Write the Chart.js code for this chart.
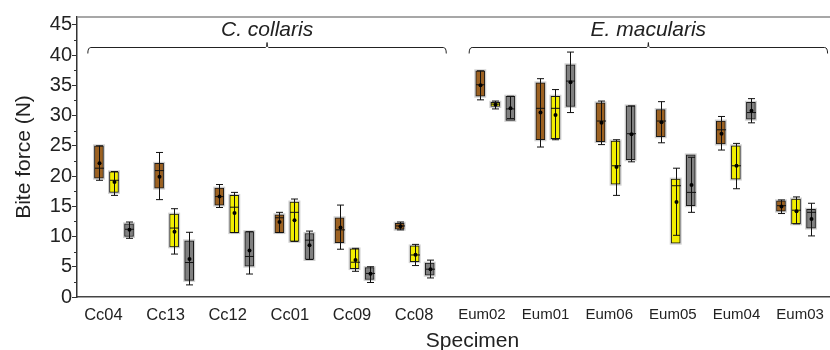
<!DOCTYPE html>
<html><head><meta charset="utf-8">
<script src="https://cdn.jsdelivr.net/npm/chart.js@4.4.1/dist/chart.umd.min.js"></script>
<style>html,body{margin:0;padding:0;overflow:hidden;background:#fff}#wrap{position:relative;width:868px;height:350px}</style>
</head><body><div id="wrap"><canvas id="c"></canvas></div>
<script>
// ---------- data ----------
const specimens = ['Cc04','Cc13','Cc12','Cc01','Cc09','Cc08','Eum02','Eum01','Eum06','Eum05','Eum04','Eum03'];
const speciesNames = ['C. collaris', 'E. macularis'];
const speciesFirst = [0, 6];
const speciesLast = [5, 11];
const yTicks = [0, 5, 10, 15, 20, 25, 30, 35, 40, 45];
const yMinorTicks = [2.5, 7.5, 12.5, 17.5, 22.5, 27.5, 32.5, 37.5, 42.5];
const seriesNames = ['Series 1', 'Series 2', 'Series 3'];

const brownMin  = [19.3, 16.1, 14.8, 10.65, 7.9, 11.1, 32.6, 24.8, 25.2, 25.5, 24.3, 13.8];
const brownQ1   = [19.65, 18.0, 15.2, 10.65, 9.0, 11.2, 33.2, 26.0, 25.7, 26.5, 25.3, 14.2];
const brownMed  = [21.3, 20.9, 16.6, 13.1, 11.1, 11.75, 35.1, 31.2, 29.1, 29.1, 27.65, 15.1];
const brownQ3   = [25.0, 22.1, 18.0, 13.6, 13.1, 12.2, 37.4, 35.4, 32.1, 31.0, 29.1, 15.9];
const brownMax  = [25.0, 23.9, 18.6, 14.0, 15.2, 12.4, 37.4, 36.1, 32.4, 32.3, 29.85, 16.05];
const brownMean = [22.1, 19.9, 16.6, 12.4, 11.5, 11.7, 35.0, 30.5, 28.8, 28.9, 27.0, 14.95];

const yellowMin  = [16.8, 7.1, 10.65, 9.2, 4.25, 5.2, 31.1, 26.0, 16.8, 10.2, 17.9, 12.1];
const yellowQ1   = [17.3, 8.3, 10.65, 9.2, 4.7, 5.85, 31.5, 26.2, 18.65, 8.9, 19.5, 12.1];
const yellowMed  = [19.3, 11.4, 14.85, 14.0, 5.75, 6.95, 31.9, 31.2, 21.7, 18.4, 21.7, 14.35];
const yellowQ3   = [20.7, 13.7, 16.8, 15.7, 7.95, 8.45, 32.2, 33.2, 25.8, 19.5, 25.0, 16.2];
const yellowMax  = [20.75, 14.6, 17.3, 16.2, 8.05, 8.7, 32.4, 34.3, 26.0, 21.3, 25.4, 16.55];
const yellowMean = [19.0, 10.8, 13.9, 12.7, 6.1, 7.0, 31.8, 30.1, 21.5, 15.7, 21.7, 14.2];

const grayMin  = [9.7, 2.0, 3.8, 6.2, 2.4, 3.15, 29.5, 30.5, 22.35, 14.0, 28.8, 10.1];
const grayQ1   = [10.0, 2.75, 5.1, 6.2, 2.9, 3.6, 29.2, 31.5, 22.7, 15.1, 29.4, 11.4];
const grayMed  = [11.2, 5.7, 6.7, 9.4, 3.9, 4.6, 31.1, 35.7, 27.0, 17.3, 30.5, 14.0];
const grayQ3   = [12.1, 9.3, 10.8, 10.5, 4.85, 5.6, 33.2, 38.4, 31.6, 23.5, 32.2, 14.5];
const grayMax  = [12.4, 10.7, 10.8, 10.9, 5.0, 6.1, 33.2, 40.5, 31.6, 23.1, 32.8, 15.5];
const grayMean = [11.1, 6.3, 7.7, 8.55, 3.85, 4.6, 31.2, 35.5, 26.9, 18.5, 30.8, 12.9];

// ---------- layout / style ----------
const SPECIES_GAP = 0.34;
const SERIES_OFFSET = [-0.25, 0, 0.25];
const COLORS = ['#9C6121', '#F2EE00', '#808080'];
const FONT = "'Liberation Sans', Arial, sans-serif";
const TXT = '#222';
const LABEL_LAYOUT = [{start: -0.175, step: 1.033}, {start: 6.118, step: 1.058}];

function groupPos(i) { return i + (i >= speciesFirst[1] ? SPECIES_GAP : 0); }
const labelPos = specimens.map((s, i) => {
  const g = i >= speciesFirst[1] ? 1 : 0;
  return LABEL_LAYOUT[g].start + (i - speciesFirst[g]) * LABEL_LAYOUT[g].step;
});

const stats = [
  {min: brownMin, q1: brownQ1, med: brownMed, q3: brownQ3, max: brownMax, mean: brownMean},
  {min: yellowMin, q1: yellowQ1, med: yellowMed, q3: yellowQ3, max: yellowMax, mean: yellowMean},
  {min: grayMin, q1: grayQ1, med: grayMed, q3: grayQ3, max: grayMax, mean: grayMean}
];

const datasets = stats.map((st, s) => ({
  label: seriesNames[s],
  data: specimens.map((_, i) => ({x: groupPos(i) + SERIES_OFFSET[s], y: [st.q1[i], st.q3[i]]})),
  backgroundColor: COLORS[s],
  borderColor: '#1a1a1a',
  borderWidth: 1,
  borderSkipped: false,
  barThickness: 9,
  grouped: false
}));

const boxPlugin = {
  id: 'boxparts',
  beforeDatasetsDraw(chart) {
    const ctx = chart.ctx;
    ctx.save();
    ctx.strokeStyle = 'rgba(0,0,0,0.18)';
    ctx.lineWidth = 3;
    chart.data.datasets.forEach((ds, s) => {
      chart.getDatasetMeta(s).data.forEach(el => {
        const top = Math.min(el.y, el.base), bot = Math.max(el.y, el.base);
        ctx.strokeRect(el.x - el.width / 2, top, el.width, bot - top);
      });
    });
    ctx.restore();
  },
  afterDatasetsDraw(chart) {
    const ctx = chart.ctx, y = chart.scales.y;
    ctx.save();
    ctx.strokeStyle = '#111';
    ctx.fillStyle = '#000';
    ctx.lineWidth = 1;
    stats.forEach((st, s) => {
      chart.getDatasetMeta(s).data.forEach((el, i) => {
        const x = Math.round(el.x) + 0.5;
        const w = el.width;
        const yl = y.getPixelForValue(st.min[i]), yh = y.getPixelForValue(st.max[i]);
        ctx.beginPath();
        ctx.moveTo(x, yl); ctx.lineTo(x, yh);
        ctx.moveTo(x - 3.5, yl); ctx.lineTo(x + 3.5, yl);
        ctx.moveTo(x - 3.5, yh); ctx.lineTo(x + 3.5, yh);
        const ym = y.getPixelForValue(st.med[i]);
        ctx.moveTo(x - w / 2, ym); ctx.lineTo(x + w / 2, ym);
        ctx.stroke();
        ctx.beginPath();
        ctx.arc(x, y.getPixelForValue(st.mean[i]), 2, 0, Math.PI * 2);
        ctx.fill();
      });
    });
    ctx.restore();
  },
  afterDraw(chart) {
    const ctx = chart.ctx, a = chart.chartArea, xs = chart.scales.x, ys = chart.scales.y;
    ctx.save();
    // top frame line
    ctx.strokeStyle = '#8a8a8a';
    ctx.lineWidth = 1.5;
    ctx.beginPath(); ctx.moveTo(a.left, a.top); ctx.lineTo(a.right, a.top); ctx.stroke();
    // minor y ticks
    ctx.strokeStyle = '#333';
    ctx.lineWidth = 1;
    ctx.beginPath();
    yMinorTicks.forEach(v => {
      const py = Math.round(ys.getPixelForValue(v)) + 0.5;
      ctx.moveTo(a.left - 3, py); ctx.lineTo(a.left, py);
    });
    ctx.stroke();
    // species braces
    ctx.strokeStyle = '#222';
    ctx.lineWidth = 1;
    speciesNames.forEach((name, g) => {
      const x0 = xs.getPixelForValue(groupPos(speciesFirst[g]) - 0.435);
      const x1 = xs.getPixelForValue(groupPos(speciesLast[g]) + 0.525);
      const xc = (x0 + x1) / 2;
      const by = a.top + 30.5;
      ctx.beginPath();
      ctx.moveTo(x0, by + 6);
      ctx.quadraticCurveTo(x0, by, x0 + 3, by);
      ctx.lineTo(xc - 1.5, by);
      ctx.quadraticCurveTo(xc, by, xc, by - 5);
      ctx.quadraticCurveTo(xc, by, xc + 1.5, by);
      ctx.lineTo(x1 - 3, by);
      ctx.quadraticCurveTo(x1, by, x1, by + 6);
      ctx.stroke();
      ctx.fillStyle = TXT;
      ctx.font = 'italic 21px ' + FONT;
      ctx.textAlign = 'center';
      ctx.textBaseline = 'alphabetic';
      ctx.fillText(name, xc, a.top + 19);
    });
    ctx.restore();
  }
};

new Chart(document.getElementById('c'), {
  type: 'bar',
  data: {datasets},
  options: {
    responsive: true,
    maintainAspectRatio: false,
    animation: false,
    layout: {padding: {top: 17, right: 0, bottom: 0, left: 0}},
    plugins: {legend: {display: false}, tooltip: {enabled: false}},
    scales: {
      x: {
        type: 'linear',
        offset: false,
        min: -0.615,
        max: 12.537,
        afterBuildTicks: sc => { sc.ticks = labelPos.map(v => ({value: v})); },
        afterFit: sc => { sc.height = 53; },
        grid: {display: false, drawTicks: false, offset: false},
        border: {display: true, color: '#444', width: 1.5},
        ticks: {
          autoSkip: false, maxRotation: 0, padding: 9, color: TXT,
          font: ctx => ({family: FONT, size: ctx.index < 6 ? 16.5 : 15}),
          callback: (v, i) => specimens[i]
        },
        title: {display: true, text: 'Specimen', color: TXT, font: {family: FONT, size: 21}, padding: {top: 0, bottom: -4}}
      },
      y: {
        min: 0,
        max: 46.3,
        afterBuildTicks: sc => { sc.ticks = yTicks.map(v => ({value: v})); },
        afterFit: sc => { sc.width = 77; },
        grid: {display: true, drawOnChartArea: false, drawTicks: true, tickLength: 5, color: '#333', lineWidth: 1},
        border: {display: true, color: '#333', width: 1.5},
        ticks: {padding: 0, color: TXT, font: {family: FONT, size: 20}, callback: v => String(v)},
        title: {display: true, text: 'Bite force (N)', color: TXT, font: {family: FONT, size: 21}, padding: {top: 12, bottom: 0}}
      }
    }
  },
  plugins: [boxPlugin]
});
</script>
</body></html>
